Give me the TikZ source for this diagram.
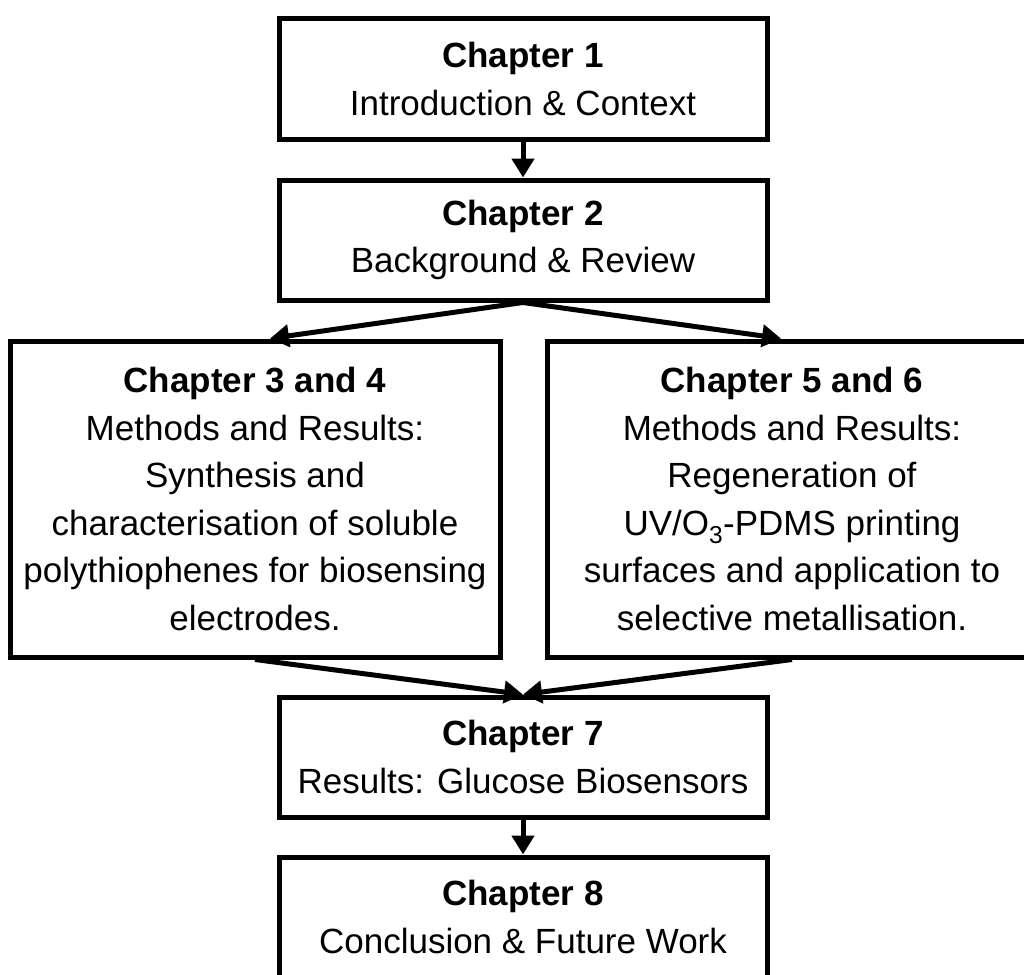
\documentclass[tikz,border=0pt]{standalone}
\usepackage{fontspec}
\setmainfont{Liberation Sans}
\usetikzlibrary{arrows.meta,calc}
\begin{document}
\begin{tikzpicture}[x=1pt,y=1pt,
  box/.style={draw, line width=5pt, rectangle, inner sep=0pt, align=center,
    font=\fontsize{35}{47.5}\selectfont},
  small/.style={box, minimum width=488pt, minimum height=120pt},
  big/.style={box, minimum width=490pt, minimum height=316pt},
  arr/.style={line width=5pt, -{Triangle[width=22pt,length=19pt]}}]
\useasboundingbox (0,0) rectangle (1024,-974);
\clip (0,0) rectangle (1024,-974);
\node[small] (b1) at (523,-79) {\textbf{Chapter 1}\\Introduction \& Context};
\node[small] (b2) at (523,-240) {\textbf{Chapter 2}\\Background \& Review};
\node[big] (b3) at (255,-499) {\textbf{Chapter 3 and 4}\\Methods and Results:\\Synthesis and\\characterisation of soluble\\polythiophenes for biosensing\\electrodes.};
\node[big] (b4) at (792,-499) {\textbf{Chapter 5 and 6}\\Methods and Results:\\Regeneration of\\UV/O\textsubscript{3}-PDMS printing\\surfaces and application to\\selective metallisation.};
\node[small] (b7) at (523,-757) {\textbf{Chapter 7}\\Results: Glucose Biosensors};
\node[small] (b8) at (523,-917) {\textbf{Chapter 8}\\Conclusion \& Future Work};
\coordinate (t3) at ($(b3.north)+(15,0)$);
\coordinate (t4) at ($(b4.north)+(-11,0)$);
\draw[arr] (b1.south) -- (b2.north);
\draw[arr] (b2.south) -- (t3);
\draw[arr] (b2.south) -- (t4);
\draw[arr] (b3.south) -- (b7.north);
\draw[arr] (b4.south) -- (b7.north);
\draw[arr] (b7.south) -- (b8.north);
\end{tikzpicture}
\end{document}
